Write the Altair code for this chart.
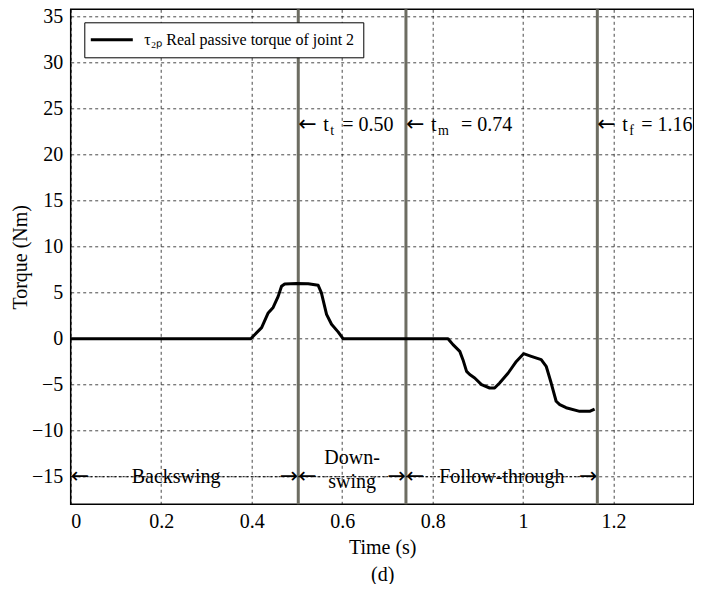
import altair as alt
import pandas as pd

# ---- data ----
time_s = [0.0, 0.398, 0.422, 0.4365, 0.4475, 0.4586, 0.466, 0.473, 0.499, 0.525, 0.547,
          0.554, 0.5655, 0.5765, 0.591, 0.602, 0.834, 0.845, 0.860, 0.867, 0.875, 0.882,
          0.893, 0.908, 0.926, 0.937, 0.948, 0.967, 0.985, 1.001, 1.018, 1.040, 1.051,
          1.062, 1.073, 1.081, 1.095, 1.125, 1.147, 1.158]
torque_nm = [0, 0, 1.2, 2.8, 3.4, 4.6, 5.7, 5.95, 6.0, 5.97, 5.8,
             5.0, 2.65, 1.57, 0.74, 0, 0, -0.65, -1.38, -2.28, -3.55, -3.9,
             -4.27, -5.0, -5.36, -5.36, -4.82, -3.73, -2.47, -1.63, -1.92, -2.28, -3.0,
             -4.82, -6.8, -7.17, -7.5, -7.9, -7.9, -7.65]
series_name = "τ₂ₚ Real passive torque of joint 2"

event_time = [0.503, 0.741, 1.164]
event_sub = ["t", "m", "f"]
event_value = ["= 0.50", "= 0.74", "= 1.16"]
event_label_y = 23.2

phase_name = ["Backswing", "Down-\nswing", "Follow-through"]
phase_lines = [1, 2, 1]
phase_start = [0.0, 0.503, 0.741]
phase_end = [0.503, 0.741, 1.164]
phase_label_x = [0.233, 0.622, 0.953]
phase_y = -15

x_ticks = [0, 0.2, 0.4, 0.6, 0.8, 1.0, 1.2]
y_ticks = [-15, -10, -5, 0, 5, 10, 15, 20, 25, 30, 35]

FONT = "Liberation Serif"
ARROW_FONT = "DejaVu Sans"
X_DOMAIN = [0, 1.377]
Y_DOMAIN = [-18, 35.8]

curve_df = pd.DataFrame({"t": time_s, "tau": torque_nm, "series": series_name})
events_df = pd.DataFrame({"t": event_time, "sub": event_sub, "val": event_value,
                          "y": event_label_y, "arrow": "←", "tt": "t"})
phase_df = pd.DataFrame({"name": phase_name, "nlines": phase_lines, "start": phase_start,
                         "end": phase_end, "lx": phase_label_x, "y": phase_y,
                         "la": "←", "ra": "→"})

xs = alt.Scale(domain=X_DOMAIN, nice=False, zero=False)
ys = alt.Scale(domain=Y_DOMAIN, nice=False, zero=False)

x_axis = alt.Axis(values=x_ticks, format="~g", title=["Time (s)", "(d)"],
                  titleLineHeight=27, labelPadding=7, titlePadding=6)
y_axis = alt.Axis(values=y_ticks, format="~g", title="Torque (Nm)",
                  labelPadding=8, titlePadding=1)

curve = alt.Chart(curve_df).mark_line(strokeWidth=3, strokeJoin="round").encode(
    x=alt.X("t:Q", scale=xs, axis=x_axis),
    y=alt.Y("tau:Q", scale=ys, axis=y_axis),
    color=alt.Color("series:N", scale=alt.Scale(range=["black"]),
                    legend=alt.Legend(title=None, orient="none", legendX=13.6, legendY=13,
                                      symbolType="M-3,0L3,0", symbolSize=196,
                                      symbolOffset=10, symbolStrokeWidth=3,
                                      labelFont=FONT, labelFontSize=16,
                                      labelColor="black", labelLimit=0,
                                      fillColor="white", strokeColor="black",
                                      padding=9, labelOffset=24, cornerRadius=0)),
)

rules = alt.Chart(events_df).mark_rule(color="#6d6d62", strokeWidth=3).encode(
    x=alt.X("t:Q", scale=xs)
)

layers = [rules, curve]

ev_suffix_dx = [44, 55, 44]
ex = alt.X("t:Q", scale=xs)
ey = alt.Y("y:Q", scale=ys)
for i in range(len(event_time)):
    row = events_df.iloc[[i]]
    arr = alt.Chart(row).mark_text(align="left", baseline="middle", dx=0, dy=-1,
                                   font=ARROW_FONT, fontSize=22, color="black").encode(
        x=ex, y=ey, text="arrow:N")
    tt = alt.Chart(row).mark_text(align="left", baseline="middle", dx=25, font=FONT,
                                  fontSize=20, color="black").encode(
        x=ex, y=ey, text="tt:N")
    sub = alt.Chart(row).mark_text(align="left", baseline="middle", dx=32, dy=6, font=FONT,
                                   fontSize=14, color="black").encode(
        x=ex, y=ey, text="sub:N")
    suf = alt.Chart(row).mark_text(align="left", baseline="middle", dx=ev_suffix_dx[i],
                                   font=FONT, fontSize=20, color="black").encode(
        x=ex, y=ey, text="val:N")
    layers += [arr, tt, sub, suf]

py = alt.Y("y:Q", scale=ys)
phase_line = alt.Chart(phase_df).mark_rule(color="black", strokeWidth=1,
                                           strokeDash=[2, 2]).encode(
    x=alt.X("start:Q", scale=xs), x2="end:Q", y=py)
left_arrow = alt.Chart(phase_df).mark_text(align="left", baseline="middle", dy=-1,
                                           font=ARROW_FONT, fontSize=22,
                                           color="black").encode(
    x=alt.X("start:Q", scale=xs), y=py, text="la:N")
right_arrow = alt.Chart(phase_df).mark_text(align="right", baseline="middle", dy=-1,
                                            font=ARROW_FONT, fontSize=22,
                                            color="black").encode(
    x=alt.X("end:Q", scale=xs), y=py, text="ra:N")
phase_text1 = alt.Chart(phase_df).transform_filter("datum.nlines == 1").mark_text(
    align="center", baseline="middle", font=FONT, fontSize=20, color="black").encode(
    x=alt.X("lx:Q", scale=xs), y=py, text="name:N")
phase_text2 = alt.Chart(phase_df).transform_filter("datum.nlines == 2").mark_text(
    align="center", baseline="middle", font=FONT, fontSize=20, color="black",
    lineBreak="\n", lineHeight=24, dy=-19).encode(
    x=alt.X("lx:Q", scale=xs), y=py, text="name:N")

layers += [phase_line, left_arrow, right_arrow, phase_text1, phase_text2]

chart = alt.layer(*layers).properties(
    width=623, height=495,
    autosize=alt.AutoSizeParams(type="none"),
    padding={"left": 62.7, "top": 1.3, "right": 0, "bottom": 80},
    background="white",
).configure_view(
    stroke="black", strokeWidth=1.5
).configure_axis(
    labelFont=FONT, titleFont=FONT, labelFontSize=20, titleFontSize=20,
    labelColor="black", titleColor="black", titleFontWeight="normal",
    grid=True, gridColor="black", gridDash=[3, 3], gridWidth=0.8, gridOpacity=0.9,
    domain=False, ticks=False,
)

chart.save("out.html", embed_options={"renderer": "svg", "actions": False})
